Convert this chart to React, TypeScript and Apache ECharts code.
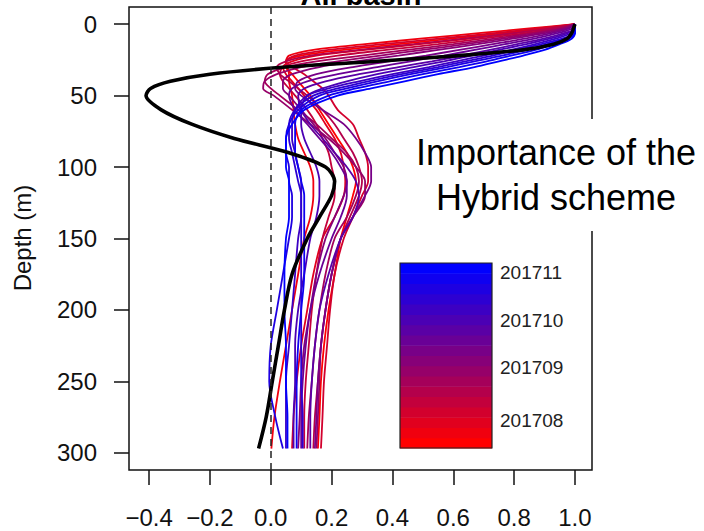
import React, { useEffect, useRef } from "react";
import * as echarts from "echarts";

// Depth levels (m) shared by every profile
const DEPTHS = [0, 3, 6, 10, 14, 18, 22, 26, 30, 35, 40, 45, 50, 60, 70, 80, 90, 100, 110, 120, 135, 150, 175, 200, 225, 250, 275, 297];

// Weekly profiles, oldest (red) to newest (blue); one value per depth level
const WEEK_01 = [1.0, 0.90, 0.78, 0.60, 0.42, 0.24, 0.10, 0.05, 0.05, 0.07, 0.09, 0.11, 0.13, 0.16, 0.19, 0.22, 0.25, 0.27, 0.28, 0.27, 0.25, 0.23, 0.21, 0.19, 0.175, 0.165, 0.16, 0.155];
const WEEK_02 = [1.0, 0.85, 0.70, 0.50, 0.31, 0.14, 0.06, 0.05, 0.055, 0.06, 0.06, 0.065, 0.07, 0.075, 0.08, 0.09, 0.11, 0.13, 0.14, 0.14, 0.13, 0.11, 0.09, 0.07, 0.05, 0.03, 0.012, 0.002];
const WEEK_03 = [1.0, 0.92, 0.82, 0.66, 0.49, 0.31, 0.15, 0.07, 0.04, 0.05, 0.07, 0.09, 0.11, 0.15, 0.18, 0.21, 0.23, 0.24, 0.245, 0.24, 0.21, 0.17, 0.14, 0.12, 0.10, 0.085, 0.075, 0.07];
const WEEK_04 = [1.0, 0.88, 0.75, 0.56, 0.37, 0.19, 0.08, 0.05, 0.07, 0.11, 0.14, 0.17, 0.19, 0.22, 0.27, 0.29, 0.31, 0.32, 0.32, 0.30, 0.27, 0.24, 0.21, 0.195, 0.185, 0.175, 0.17, 0.165];
const WEEK_05 = [1.0, 0.94, 0.85, 0.70, 0.55, 0.38, 0.22, 0.10, 0.04, 0.03, 0.04, 0.06, 0.08, 0.12, 0.15, 0.17, 0.19, 0.20, 0.21, 0.21, 0.19, 0.17, 0.15, 0.135, 0.125, 0.115, 0.11, 0.11];
const WEEK_06 = [1.0, 0.92, 0.81, 0.64, 0.47, 0.29, 0.13, 0.05, 0.02, 0.03, 0.06, 0.09, 0.12, 0.17, 0.21, 0.24, 0.27, 0.29, 0.30, 0.29, 0.26, 0.23, 0.20, 0.18, 0.165, 0.155, 0.145, 0.14];
const WEEK_07 = [1.0, 0.95, 0.87, 0.74, 0.60, 0.45, 0.30, 0.15, 0.05, -0.01, -0.02, 0.00, 0.03, 0.09, 0.15, 0.20, 0.25, 0.28, 0.29, 0.28, 0.25, 0.21, 0.18, 0.16, 0.145, 0.135, 0.125, 0.12];
const WEEK_08 = [1.0, 0.96, 0.89, 0.77, 0.64, 0.50, 0.36, 0.22, 0.10, 0.02, -0.02, -0.025, 0.01, 0.07, 0.13, 0.19, 0.24, 0.28, 0.31, 0.31, 0.27, 0.23, 0.20, 0.18, 0.165, 0.16, 0.155, 0.15];
const WEEK_09 = [1.0, 0.97, 0.91, 0.80, 0.68, 0.55, 0.42, 0.28, 0.16, 0.07, 0.04, 0.04, 0.06, 0.10, 0.14, 0.18, 0.21, 0.24, 0.25, 0.24, 0.21, 0.18, 0.15, 0.13, 0.11, 0.10, 0.095, 0.09];
const WEEK_10 = [1.0, 0.98, 0.93, 0.84, 0.73, 0.62, 0.51, 0.39, 0.27, 0.15, 0.09, 0.08, 0.10, 0.17, 0.24, 0.28, 0.31, 0.33, 0.33, 0.31, 0.27, 0.23, 0.20, 0.18, 0.165, 0.155, 0.15, 0.145];
const WEEK_11 = [1.0, 0.99, 0.95, 0.87, 0.77, 0.67, 0.57, 0.46, 0.35, 0.22, 0.12, 0.07, 0.06, 0.08, 0.12, 0.16, 0.20, 0.23, 0.25, 0.25, 0.23, 0.20, 0.16, 0.13, 0.115, 0.105, 0.10, 0.10];
const WEEK_12 = [1.0, 1.0, 0.97, 0.90, 0.81, 0.72, 0.63, 0.53, 0.42, 0.29, 0.18, 0.11, 0.09, 0.10, 0.13, 0.17, 0.21, 0.25, 0.28, 0.29, 0.27, 0.23, 0.19, 0.16, 0.145, 0.135, 0.13, 0.13];
const WEEK_13 = [1.0, 1.0, 0.98, 0.92, 0.84, 0.75, 0.66, 0.57, 0.47, 0.35, 0.25, 0.17, 0.12, 0.10, 0.10, 0.11, 0.13, 0.15, 0.16, 0.16, 0.15, 0.13, 0.11, 0.09, 0.08, 0.08, 0.075, 0.075];
const WEEK_14 = [1.0, 1.0, 0.99, 0.94, 0.87, 0.79, 0.70, 0.61, 0.52, 0.40, 0.29, 0.19, 0.12, 0.08, 0.07, 0.07, 0.08, 0.09, 0.10, 0.10, 0.10, 0.09, 0.08, 0.07, 0.06, 0.05, 0.05, 0.05];
const WEEK_15 = [1.0, 1.0, 1.0, 0.96, 0.89, 0.81, 0.73, 0.64, 0.55, 0.43, 0.32, 0.22, 0.14, 0.08, 0.06, 0.06, 0.07, 0.08, 0.09, 0.10, 0.10, 0.10, 0.10, 0.10, 0.10, 0.10, 0.105, 0.105];
const WEEK_16 = [1.0, 1.0, 1.0, 0.97, 0.91, 0.84, 0.76, 0.67, 0.58, 0.46, 0.35, 0.25, 0.16, 0.09, 0.06, 0.05, 0.05, 0.06, 0.06, 0.07, 0.07, 0.06, 0.04, 0.02, 0.00, -0.005, 0.015, 0.04];
const WEEK_17 = [1.0, 1.0, 1.0, 0.98, 0.93, 0.87, 0.79, 0.71, 0.62, 0.50, 0.39, 0.28, 0.19, 0.10, 0.08, 0.08, 0.08, 0.09, 0.10, 0.11, 0.11, 0.11, 0.11, 0.10, 0.09, 0.085, 0.085, 0.085];
const WEEK_18 = [1.0, 1.0, 1.0, 0.99, 0.95, 0.90, 0.83, 0.75, 0.67, 0.55, 0.44, 0.33, 0.22, 0.11, 0.07, 0.05, 0.05, 0.05, 0.06, 0.06, 0.06, 0.05, 0.045, 0.045, 0.05, 0.05, 0.055, 0.055];

const WEEKLY_PROFILES = [
  WEEK_01, WEEK_02, WEEK_03, WEEK_04, WEEK_05, WEEK_06, WEEK_07, WEEK_08, WEEK_09,
  WEEK_10, WEEK_11, WEEK_12, WEEK_13, WEEK_14, WEEK_15, WEEK_16, WEEK_17, WEEK_18,
];

// Thick black profile
const BOLD_PROFILE = [1.0, 0.995, 0.99, 0.975, 0.93, 0.83, 0.62, 0.35, 0.05, -0.20, -0.33, -0.395, -0.41, -0.36, -0.26, -0.12, 0.06, 0.18, 0.21, 0.20, 0.16, 0.12, 0.07, 0.045, 0.025, 0.005, -0.015, -0.04];

const X_TICKS = [-0.4, -0.2, 0.0, 0.2, 0.4, 0.6, 0.8, 1.0];
const Y_TICKS = [0, 50, 100, 150, 200, 250, 300];
const LEGEND_LABELS = ["201711", "201710", "201709", "201708"];

const TITLE = "All basin";
const Y_NAME = "Depth (m)";
const NOTE = "Importance of the\nHybrid scheme";

const FONT = '"Liberation Sans", Arial, Helvetica, sans-serif';

// Layout of the colour bar and its labels
const BAR = { x: 400, y: 263, w: 92, h: 185 };
const BAR_LABEL_Y = [272, 320, 367, 420];

function rampColor(i: number, n: number): string {
  const t = n > 1 ? i / (n - 1) : 0;
  const r = Math.round(255 * (1 - t));
  const b = Math.round(255 * t);
  return `rgb(${r},0,${b})`;
}

function fmtTick(v: number): string {
  const s = Math.abs(v).toFixed(1);
  return v < -1e-9 ? "\u2212" + s : s;
}

export default function App() {
  const ref = useRef<HTMLDivElement>(null);

  useEffect(() => {
    if (!ref.current) return;
    const chart = echarts.init(ref.current, null, { renderer: "svg" });
    const n = WEEKLY_PROFILES.length;

    const series: any[] = WEEKLY_PROFILES.map((xs, i) => ({
      type: "line",
      data: DEPTHS.map((d, k) => [xs[k], d]),
      symbol: "none",
      smooth: 0.3,
      silent: true,
      z: 2,
      lineStyle: { color: rampColor(i, n), width: 1.8 },
    }));

    series.push({
      type: "line",
      data: DEPTHS.map((d, k) => [BOLD_PROFILE[k], d]),
      symbol: "none",
      smooth: 0.3,
      silent: true,
      z: 4,
      lineStyle: { color: "#000", width: 3.6 },
      markLine: {
        silent: true,
        symbol: "none",
        label: { show: false },
        lineStyle: { color: "#222", width: 1.5, type: [7, 5] },
        data: [{ xAxis: 0 }],
      },
    });

    const bandH = BAR.h / n;
    const bands = WEEKLY_PROFILES.map((_, i) => ({
      type: "rect",
      z: 10,
      shape: { x: BAR.x, y: BAR.y + BAR.h - (i + 1) * bandH, width: BAR.w, height: bandH + 0.5 },
      style: { fill: rampColor(i, n) },
    }));

    const barLabels = LEGEND_LABELS.map((t, i) => ({
      type: "text",
      z: 11,
      x: BAR.x + BAR.w + 8,
      y: BAR_LABEL_Y[i],
      style: {
        text: t,
        fontSize: 19,
        fontFamily: FONT,
        fill: "#222",
        align: "left",
        verticalAlign: "middle",
      },
    }));

    chart.setOption({
      animation: false,
      grid: {
        left: 129,
        top: 7,
        right: 112,
        bottom: 61,
        show: true,
        borderColor: "#111",
        borderWidth: 1.5,
        backgroundColor: "transparent",
      },
      xAxis: {
        type: "value",
        min: -0.466,
        max: 1.056,
        position: "bottom",
        axisLine: { show: false, onZero: false },
        splitLine: { show: false },
        axisTick: {
          show: true,
          customValues: X_TICKS,
          length: 15,
          lineStyle: { color: "#111", width: 1.5 },
        },
        axisLabel: {
          customValues: X_TICKS,
          formatter: (v: number) => fmtTick(v),
          fontSize: 24,
          fontFamily: FONT,
          color: "#111",
          margin: 35,
        },
      },
      yAxis: {
        type: "value",
        inverse: true,
        min: -12,
        max: 312,
        position: "left",
        axisLine: { show: false, onZero: false },
        splitLine: { show: false },
        axisTick: {
          show: true,
          customValues: Y_TICKS,
          length: 15,
          lineStyle: { color: "#111", width: 1.5 },
        },
        axisLabel: {
          customValues: Y_TICKS,
          fontSize: 24,
          fontFamily: FONT,
          color: "#111",
          margin: 32,
        },
      },
      series,
      graphic: [
        {
          type: "text",
          z: 10,
          x: 361,
          y: -5.5,
          style: {
            text: TITLE,
            fontSize: 29,
            fontWeight: "bold",
            fontFamily: FONT,
            fill: "#000",
            align: "center",
            verticalAlign: "middle",
          },
        },
        {
          type: "text",
          z: 10,
          x: 22,
          y: 238,
          rotation: Math.PI / 2,
          style: {
            text: Y_NAME,
            fontSize: 24,
            fontFamily: FONT,
            fill: "#111",
            align: "center",
            verticalAlign: "middle",
          },
        },
        ...bands,
        {
          type: "rect",
          z: 11,
          shape: { x: BAR.x, y: BAR.y, width: BAR.w, height: BAR.h },
          style: { fill: "none", stroke: "#222", lineWidth: 1.2 },
        },
        ...barLabels,
        {
          type: "rect",
          z: 12,
          shape: { x: 396, y: 119, width: 308, height: 112 },
          style: { fill: "#fff" },
        },
        {
          type: "text",
          z: 13,
          x: 556,
          y: 174.5,
          style: {
            text: NOTE,
            fontSize: 36,
            lineHeight: 45,
            fontFamily: FONT,
            fill: "#000",
            align: "center",
            verticalAlign: "middle",
          },
        },
      ],
    });

    return () => chart.dispose();
  }, []);

  return (
    <div
      ref={ref}
      style={{ position: "absolute", left: 0, top: 0, width: 704, height: 531 }}
    />
  );
}
